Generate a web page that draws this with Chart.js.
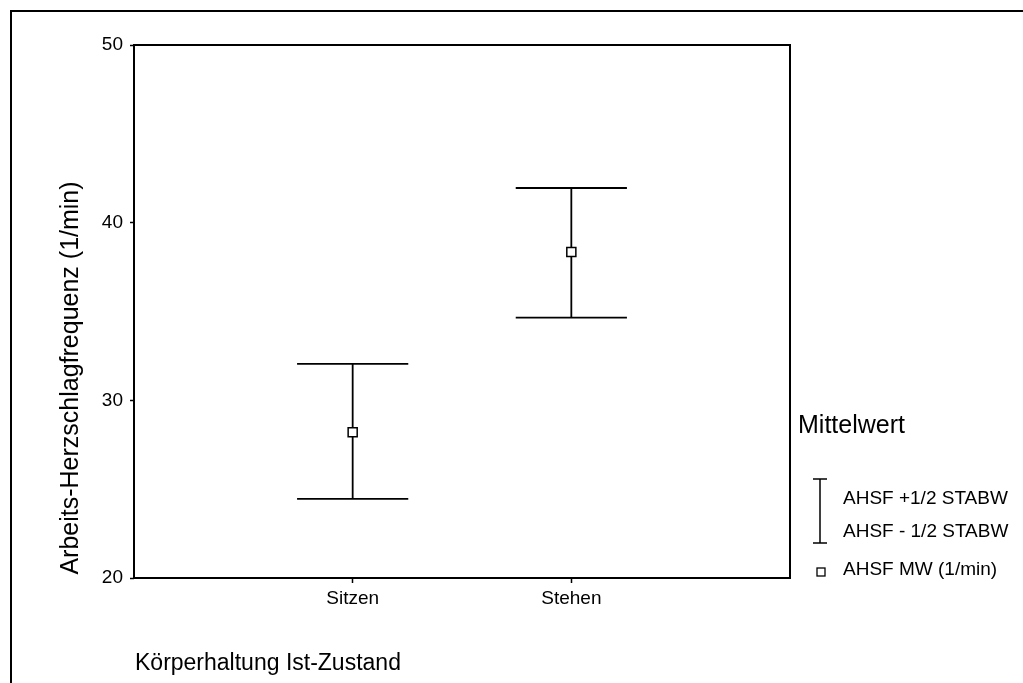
<!DOCTYPE html>
<html>
<head>
<meta charset="utf-8">
<script src="https://cdn.jsdelivr.net/npm/chart.js@4/dist/chart.umd.min.js"></script>
<style>
    body { margin: 0; background: #fff; }
    canvas { display: block; }
</style>
</head>
<body>
<canvas id="errChart" width="1023" height="683"></canvas>
<script>
// Körperhaltung
const categories = ['Sitzen', 'Stehen'];
// AHSF Mittelwert (1/min)
const meanValues = [28.2, 38.35];
// AHSF +1/2 STABW
const upperValues = [32.05, 41.95];
// AHSF - 1/2 STABW
const lowerValues = [24.45, 34.65];
const yTicks = [20, 30, 40, 50];

const FONT = '"Liberation Sans", Arial, sans-serif';

// category index -> x position (1, 2)
const meanPts = categories.map((c, i) => ({ x: i + 1, y: meanValues[i] }));
const capPts = [];
const whiskerPts = [];
categories.forEach((c, i) => {
    capPts.push({ x: i + 1, y: upperValues[i] });
    capPts.push({ x: i + 1, y: lowerValues[i] });
    whiskerPts.push({ x: i + 1, y: lowerValues[i] });
    whiskerPts.push({ x: i + 1, y: upperValues[i] });
    whiskerPts.push({ x: i + 1.5, y: null });
});

// Rahmen, Plotbox, Achsentitel und Legende
const decorPlugin = {
    id: 'decor',
    beforeDraw(chart) {
        const ctx = chart.ctx;
        ctx.save();
        ctx.fillStyle = '#fff';
        ctx.fillRect(0, 0, chart.width, chart.height);
        ctx.strokeStyle = '#000';
        ctx.lineWidth = 2;
        ctx.beginPath();
        ctx.moveTo(11, chart.height + 5);
        ctx.lineTo(11, 11);
        ctx.lineTo(chart.width + 5, 11);
        ctx.stroke();
        ctx.restore();
    },
    afterDraw(chart) {
        const ctx = chart.ctx;
        const a = chart.chartArea;
        ctx.save();
        ctx.strokeStyle = '#000';
        ctx.lineWidth = 2;
        ctx.strokeRect(a.left, a.top, a.right - a.left, a.bottom - a.top);

        ctx.fillStyle = '#000';
        // y-Achsentitel
        ctx.font = '25px ' + FONT;
        ctx.save();
        ctx.translate(71, 378);
        ctx.rotate(-Math.PI / 2);
        ctx.textAlign = 'center';
        ctx.textBaseline = 'middle';
        ctx.fillText('Arbeits-Herzschlagfrequenz (1/min)', 0, 0);
        ctx.restore();

        // x-Achsentitel
        ctx.textAlign = 'left';
        ctx.textBaseline = 'alphabetic';
        ctx.font = '23px ' + FONT;
        ctx.fillText('Körperhaltung Ist-Zustand', 135, 670);

        // Legende
        ctx.font = '25px ' + FONT;
        ctx.fillText('Mittelwert', 798, 433);
        ctx.font = '19px ' + FONT;
        ctx.fillText('AHSF +1/2 STABW', 843, 504);
        ctx.fillText('AHSF - 1/2 STABW', 843, 537);
        ctx.fillText('AHSF MW (1/min)', 843, 575);

        ctx.lineWidth = 1.5;
        ctx.beginPath();
        ctx.moveTo(820, 479); ctx.lineTo(820, 543);
        ctx.moveTo(813, 479); ctx.lineTo(827, 479);
        ctx.moveTo(813, 543); ctx.lineTo(827, 543);
        ctx.stroke();
        ctx.lineWidth = 1.3;
        ctx.strokeRect(817, 568, 8, 8);
        ctx.restore();
    }
};

const ctx = document.getElementById('errChart').getContext('2d');
const errChart = new Chart(ctx, {
    type: 'scatter',
    data: {
        datasets: [
            {
                label: 'AHSF MW (1/min)',
                data: meanPts,
                pointStyle: 'rect',
                pointRadius: 6.4,
                pointBackgroundColor: '#fff',
                pointBorderColor: '#000',
                pointBorderWidth: 1.5,
            },
            {
                label: 'STABW caps',
                data: capPts,
                pointStyle: 'line',
                pointRadius: 55.6,
                pointBorderColor: '#000',
                pointBorderWidth: 1.8,
            },
            {
                label: 'STABW',
                data: whiskerPts,
                showLine: true,
                spanGaps: false,
                borderColor: '#000',
                borderWidth: 1.8,
                pointRadius: 0,
            },
        ]
    },
    options: {
        responsive: false,
        animation: false,
        events: [],
        layout: {
            autoPadding: false,
            padding: { left: 0, top: 45, right: 233, bottom: 0 }
        },
        plugins: {
            legend: { display: false },
            tooltip: { enabled: false },
        },
        scales: {
            x: {
                type: 'linear',
                min: 0,
                max: 3,
                afterBuildTicks: (axis) => {
                    axis.ticks = categories.map((c, i) => ({ value: i + 1 }));
                },
                afterFit: (axis) => { axis.height = 105; },
                border: { display: false },
                grid: {
                    drawOnChartArea: false,
                    drawTicks: true,
                    tickLength: 5,
                    tickColor: '#000',
                    tickWidth: 1.5,
                },
                ticks: {
                    color: '#000',
                    padding: 4,
                    font: { family: FONT, size: 19 },
                    maxRotation: 0,
                    callback: (v) => categories[v - 1] || '',
                },
            },
            y: {
                min: 20,
                max: 50,
                afterBuildTicks: (axis) => {
                    axis.ticks = yTicks.map(v => ({ value: v }));
                },
                afterFit: (axis) => { axis.width = 134; },
                border: { display: false },
                grid: {
                    drawOnChartArea: false,
                    drawTicks: true,
                    tickLength: 4,
                    tickColor: '#000',
                    tickWidth: 1.5,
                },
                ticks: {
                    color: '#000',
                    padding: 7,
                    font: { family: FONT, size: 19 },
                },
            },
        }
    },
    plugins: [decorPlugin],
});
</script>
</body>
</html>
